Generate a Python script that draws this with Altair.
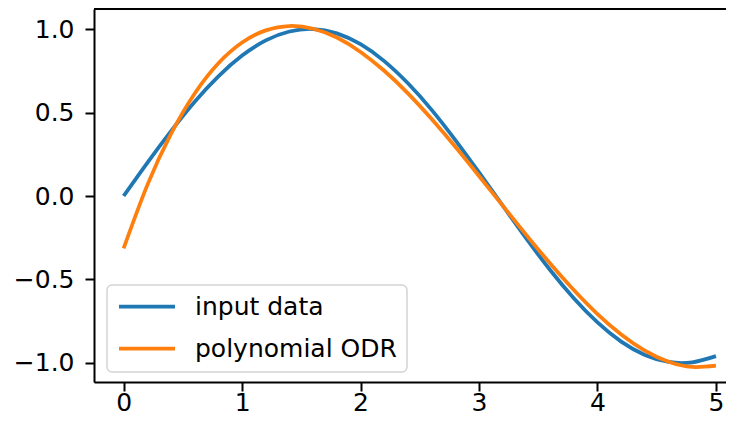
import altair as alt
import pandas as pd

# ---- data ----
x_vals = [0.0, 0.2, 0.4, 0.6, 0.8, 1.0, 1.2, 1.4, 1.6, 1.8, 2.0, 2.2, 2.4,
          2.6, 2.8, 3.0, 3.2, 3.4, 3.6, 3.8, 4.0, 4.2, 4.4, 4.6, 4.8, 5.0]
input_data = [0.000, 0.199, 0.389, 0.565, 0.717, 0.841, 0.932, 0.985, 1.000,
              0.974, 0.909, 0.808, 0.675, 0.516, 0.335, 0.141, -0.058, -0.256,
              -0.443, -0.612, -0.757, -0.872, -0.952, -0.994, -0.996, -0.959]
poly_odr = [-0.314, 0.065, 0.372, 0.614, 0.795, 0.919, 0.992, 1.018, 1.002,
            0.949, 0.863, 0.750, 0.615, 0.461, 0.295, 0.120, -0.058, -0.234,
            -0.404, -0.563, -0.707, -0.829, -0.926, -0.993, -1.024, -1.016]
series_names = ["input data", "polynomial ODR"]
series_colors = ["#1f77b4", "#ff7f0e"]
x_ticks = [0, 1, 2, 3, 4, 5]
y_ticks = [-1.0, -0.5, 0.0, 0.5, 1.0]

rows = []
for name, ys in zip(series_names, [input_data, poly_odr]):
    for xv, yv in zip(x_vals, ys):
        rows.append({"x": xv, "y": yv, "series": name})
df = pd.DataFrame(rows)

W, H = 632, 373
FONT = "DejaVu Sans"
FS = 25
LW = 3.75

lines = alt.Chart(df).mark_line(strokeWidth=LW, interpolate="natural", clip=True).encode(
    x=alt.X("x:Q",
            scale=alt.Scale(domain=[-0.25, 5.0847], nice=False, zero=False),
            axis=alt.Axis(values=x_ticks, format="d", title=None, labelPadding=-1,
                          labelFlush=False, labelOverlap=False)),
    y=alt.Y("y:Q",
            scale=alt.Scale(domain=[-1.114, 1.12], nice=False, zero=False),
            axis=alt.Axis(values=y_ticks, format=".1f", title=None, labelPadding=11,
                          labelFlush=False, labelOverlap=False)),
    color=alt.Color("series:N",
                    scale=alt.Scale(domain=series_names, range=series_colors),
                    legend=alt.Legend(orient="none", legendX=13, legendY=276, title=None,
                                      symbolType="stroke", symbolSize=3136,
                                      symbolStrokeWidth=LW, labelFontSize=FS,
                                      labelFont=FONT, labelColor="black", labelLimit=400,
                                      fillColor="white", strokeColor="#d4d4d4",
                                      cornerRadius=5, padding=10, clipHeight=23,
                                      rowPadding=16, labelOffset=18)),
)

frame_top = alt.Chart(pd.DataFrame({"a": [0]})).mark_rule(
    color="black", strokeWidth=2
).encode(x=alt.value(0), x2=alt.value(W), y=alt.value(0))

chart = alt.layer(lines, frame_top).properties(
    width=W, height=H,
    autosize=alt.AutoSizeParams(type="none"),
    padding={"left": 86, "top": 1, "right": 0, "bottom": 34},
    background="white",
).configure_view(stroke="transparent", strokeWidth=0).configure_axis(
    grid=False, domainColor="black", domainWidth=2, tickColor="black",
    tickWidth=2, tickSize=9, labelFont=FONT, labelFontSize=FS, labelColor="black",
).configure_legend(strokeWidth=1.5)

chart.save("out.html", embed_options={"renderer": "svg", "actions": False})
